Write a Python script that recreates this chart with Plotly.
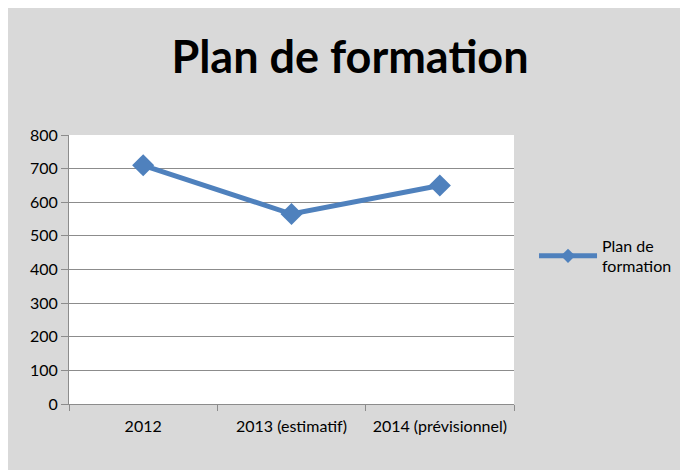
import plotly.graph_objects as go

categories = ['2012', '2013 (estimatif)', '2014 (prévisionnel)']
values = [710, 565, 650]
series_name = 'Plan de formation'
line_color = '#4F81BD'

fig = go.Figure()
fig.add_trace(go.Scatter(x=categories, y=values,
                         mode='lines+markers',
                         showlegend=False,
                         line=dict(color=line_color, width=5),
                         marker=dict(symbol='diamond', size=17, color=line_color)))
# legend entry only, with the smaller diamond used in the legend key
fig.add_trace(go.Scatter(x=[None], y=[None],
                         mode='lines+markers',
                         name='Plan de<br>formation',
                         line=dict(color=line_color, width=5),
                         marker=dict(symbol='diamond', size=11, color=line_color)))

grid_color = '#8C8C8C'
# page body has an 8px margin, so margins are shifted to keep the plot where it should be
fig.update_layout(
    width=688, height=473,
    margin=dict(l=61, r=182, t=127, b=77),
    paper_bgcolor='white',
    plot_bgcolor='white',
    font=dict(family='Lato, Open Sans, sans-serif', size=16, color='black'),
    title=dict(text='<b>' + series_name + '</b>', x=342 / 688, xanchor='center',
               y=1 - 49 / 473, yanchor='middle',
               font=dict(size=45, color='black')),
    showlegend=True,
    legend=dict(x=1.045, y=0.55, xanchor='left', yanchor='middle',
                bgcolor='rgba(0,0,0,0)', font=dict(size=16), itemwidth=58),
    shapes=[dict(type='rect', xref='paper', yref='paper',
                 x0=-0.1416, x1=1.45, y0=-0.245, y1=1.476,
                 fillcolor='#D9D9D9', line=dict(width=0), layer='below'),
            dict(type='rect', xref='paper', yref='paper',
                 x0=0, x1=1, y0=0, y1=1,
                 fillcolor='white', line=dict(width=0), layer='below')],
)
fig.update_xaxes(type='category', range=[-0.5, 2.5], tickson='boundaries',
                 ticks='outside', ticklen=6, ticklabelstandoff=8,
                 tickcolor=grid_color, showline=True, linecolor=grid_color, linewidth=1,
                 showgrid=False, tickfont=dict(size=16))
fig.update_yaxes(range=[0, 800], dtick=100, ticks='outside', ticklen=7,
                 tickcolor=grid_color, showline=True, linecolor=grid_color, linewidth=1,
                 showgrid=True, gridcolor=grid_color, gridwidth=1, zeroline=False,
                 tickfont=dict(size=16))

fig.write_html("out.html")
